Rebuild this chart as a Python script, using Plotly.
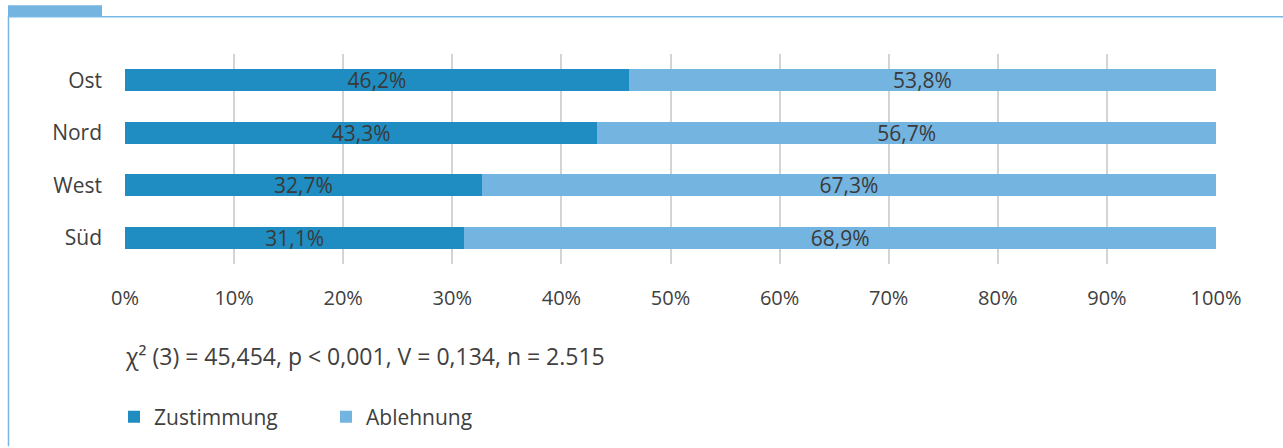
import plotly.graph_objects as go

regions = ["Ost", "Nord", "West", "Süd"]
zustimmung = [46.2, 43.3, 32.7, 31.1]
ablehnung = [53.8, 56.7, 67.3, 68.9]
x_ticks = [0, 10, 20, 30, 40, 50, 60, 70, 80, 90, 100]
x_tick_labels = [f"{v}%" for v in x_ticks]
stats_text = "χ² (3) = 45,454, p < 0,001, V = 0,134, n = 2.515"

DARK = "#1f8dc1"
LIGHT = "#74b4e1"
TEXT = "#404040"
FONT = "Open Sans"

def fmt(v):
    return f"{v:.1f}".replace(".", ",") + "%"

fig = go.Figure()
fig.add_trace(go.Bar(
    y=regions, x=zustimmung, orientation="h", name="Zustimmung",
    marker=dict(color=DARK, line=dict(width=0)),
    text=[fmt(v) for v in zustimmung], textposition="inside",
    insidetextanchor="middle", constraintext="none",
    textfont=dict(family=FONT, size=21, color="#3a3a3a"),
))
fig.add_trace(go.Bar(
    y=regions, x=ablehnung, orientation="h", name="Ablehnung",
    marker=dict(color=LIGHT, line=dict(width=0)),
    text=[fmt(v) for v in ablehnung], textposition="inside",
    insidetextanchor="middle", constraintext="none",
    textfont=dict(family=FONT, size=21, color="#3a3a3a"),
))

W, H = 1283, 448
L, R, T, B = 125, 67, 54, 183
pw, ph = W - L - R, H - T - B

def px_x(px):
    return (px - L) / pw

def px_y(py):
    return (H - B - py) / ph

fig.update_layout(
    width=W, height=H,
    margin=dict(l=L, r=R, t=T, b=B),
    paper_bgcolor="white", plot_bgcolor="white",
    barmode="stack", bargap=0.59,
    font=dict(family=FONT, color=TEXT),
    showlegend=True,
    legend=dict(
        orientation="h", x=px_x(114), y=px_y(417), xanchor="left", yanchor="middle",
        font=dict(family=FONT, size=21, color=TEXT),
        entrywidth=167, traceorder="normal",
    ),
    xaxis=dict(
        range=[0, 100], tickvals=x_ticks, ticktext=x_tick_labels,
        showgrid=True, gridcolor="#d4d4d4", gridwidth=2,
        zeroline=False, showline=False, ticks="",
        tickfont=dict(family=FONT, size=20, color=TEXT),
        ticklabelstandoff=20, fixedrange=True,
    ),
    yaxis=dict(
        autorange="reversed", showgrid=False, showline=False, ticks="",
        tickfont=dict(family=FONT, size=21, color=TEXT),
        ticklabelstandoff=22, fixedrange=True,
    ),
    annotations=[dict(
        text=stats_text, xref="paper", yref="paper",
        x=px_x(123), y=px_y(357), xanchor="left", yanchor="middle",
        showarrow=False, font=dict(family=FONT, size=23, color=TEXT),
    )],
    shapes=[
        dict(type="rect", xref="paper", yref="paper",
             x0=px_x(8), x1=px_x(102), y0=px_y(16), y1=px_y(5),
             fillcolor=LIGHT, line=dict(width=0), layer="below"),
        dict(type="line", xref="paper", yref="paper",
             x0=px_x(8), x1=px_x(1283), y0=px_y(16.5), y1=px_y(16.5),
             line=dict(color="#7ab8e4", width=1.5)),
        dict(type="line", xref="paper", yref="paper",
             x0=px_x(8.5), x1=px_x(8.5), y0=px_y(16), y1=px_y(448),
             line=dict(color="#7ab8e4", width=1.5)),
    ],
)

fig.write_html("out.html", config={"displayModeBar": False},
               post_script="document.body.style.margin='0';")
